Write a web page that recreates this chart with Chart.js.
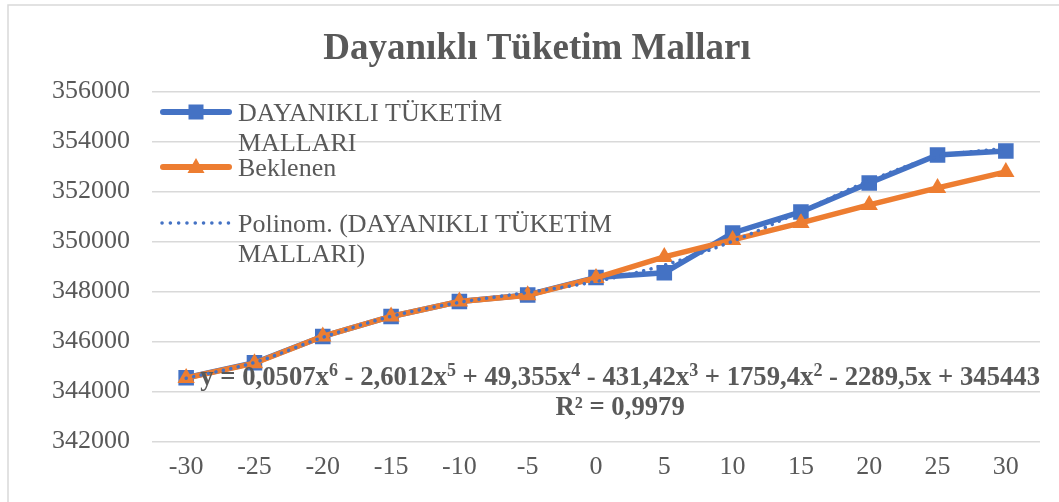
<!DOCTYPE html>
<html>
<head>
<meta charset="utf-8">
<script src="https://cdn.jsdelivr.net/npm/chart.js@4"></script>
<style>
  html, body { margin: 0; padding: 0; background: #fff; }
</style>
</head>
<body>
<canvas id="chart" width="1059" height="502"></canvas>
<script>
// x categories and y tick values
const categories = ['-30', '-25', '-20', '-15', '-10', '-5', '0', '5', '10', '15', '20', '25', '30'];
const yTicks = [342000, 344000, 346000, 348000, 350000, 352000, 354000, 356000];

// series
const tuketim = [344550, 345150, 346200, 347000, 347600, 347860, 348560, 348750, 350340, 351180, 352340, 353460, 353620];
const beklenen = [344540, 345130, 346200, 347000, 347600, 347850, 348540, 349380, 350060, 350740, 351460, 352140, 352780];
// 6th degree polynomial trend, evaluated at x = 1..13
const polinom = [344528, 345160, 346163, 347003, 347563, 347960, 348398, 349054, 350008, 351198, 352425, 353382, 353728];

const legendLines = [
	['DAYANIKLI TÜKETİM', 'MALLARI'],
	['Beklenen'],
	['Polinom. (DAYANIKLI TÜKETİM', 'MALLARI)'],
];

const BLUE = '#4472C4';
const ORANGE = '#ED7D31';
const TEXT = '#595959';
const GRID = '#d9d9d9';
const FONT = 'Liberation Serif';

// outer frame of the chart
const frame = {
	id: 'frame',
	beforeDraw(chart) {
		const { ctx } = chart;
		ctx.save();
		ctx.fillStyle = '#fff';
		ctx.fillRect(0, 0, chart.width, chart.height);
		ctx.strokeStyle = GRID;
		ctx.lineWidth = 1.5;
		ctx.strokeRect(8, 5, chart.width + 20, chart.height + 20);
		ctx.restore();
	},
};

// legend drawn inside the plot, top left
const insideLegend = {
	id: 'insideLegend',
	afterDraw(chart) {
		const { ctx } = chart;
		const x0 = 163, x1 = 229, xm = 196;
		const rows = [112, 167, 223];
		ctx.save();

		// series 1: line + square
		ctx.strokeStyle = BLUE;
		ctx.lineWidth = 6;
		ctx.lineCap = 'round';
		ctx.beginPath();
		ctx.moveTo(x0, rows[0]);
		ctx.lineTo(x1, rows[0]);
		ctx.stroke();
		ctx.fillStyle = BLUE;
		ctx.fillRect(xm - 7.5, rows[0] - 7.5, 15, 15);

		// series 2: line + triangle
		ctx.strokeStyle = ORANGE;
		ctx.beginPath();
		ctx.moveTo(x0, rows[1]);
		ctx.lineTo(x1, rows[1]);
		ctx.stroke();
		ctx.fillStyle = ORANGE;
		ctx.beginPath();
		ctx.moveTo(xm, rows[1] - 9);
		ctx.lineTo(xm + 8.5, rows[1] + 6);
		ctx.lineTo(xm - 8.5, rows[1] + 6);
		ctx.closePath();
		ctx.fill();

		// trendline: dotted
		ctx.strokeStyle = BLUE;
		ctx.lineWidth = 3.5;
		ctx.setLineDash([0.1, 8.2]);
		ctx.beginPath();
		ctx.moveTo(x0 - 1, rows[2]);
		ctx.lineTo(x1 + 2, rows[2]);
		ctx.stroke();
		ctx.setLineDash([]);

		ctx.fillStyle = TEXT;
		ctx.font = `26px "${FONT}"`;
		ctx.textBaseline = 'alphabetic';
		legendLines.forEach((lines, i) => {
			lines.forEach((t, j) => {
				ctx.fillText(t, 238, rows[i] + 9 + j * 30);
			});
		});
		ctx.restore();
	},
};

// trendline equation and R²
const equation = {
	id: 'equation',
	afterDatasetsDraw(chart) {
		const { ctx, chartArea } = chart;
		const parts = [
			['y = 0,0507x', false], ['6', true],
			[' - 2,6012x', false], ['5', true],
			[' + 49,355x', false], ['4', true],
			[' - 431,42x', false], ['3', true],
			[' + 1759,4x', false], ['2', true],
			[' - 2289,5x + 345443', false],
		];
		const big = `bold 26.7px "${FONT}"`;
		const small = `bold 18px "${FONT}"`;
		ctx.save();
		ctx.fillStyle = TEXT;
		ctx.textBaseline = 'alphabetic';
		let w = 0;
		parts.forEach(([t, sup]) => {
			ctx.font = sup ? small : big;
			w += ctx.measureText(t).width;
		});
		const base = chartArea.bottom - 57;
		let x = chartArea.right - w;
		const left = x;
		parts.forEach(([t, sup]) => {
			ctx.font = sup ? small : big;
			ctx.fillText(t, x, sup ? base - 9 : base);
			x += ctx.measureText(t).width;
		});
		ctx.font = big;
		ctx.textAlign = 'center';
		ctx.fillText('R² = 0,9979', left + w / 2, base + 30);
		ctx.restore();
	},
};

const data = {
	labels: categories,
	datasets: [
		{
			label: 'DAYANIKLI TÜKETİM MALLARI',
			data: tuketim,
			borderColor: BLUE,
			backgroundColor: BLUE,
			borderWidth: 5.5,
			pointStyle: 'rect',
			pointRadius: 11,
			pointBorderWidth: 0,
			order: 2,
		},
		{
			label: 'Beklenen',
			data: beklenen,
			borderColor: ORANGE,
			backgroundColor: ORANGE,
			borderWidth: 5.5,
			pointStyle: 'triangle',
			pointRadius: 10,
			pointBorderWidth: 0,
			order: 1,
		},
		{
			label: 'Polinom. (DAYANIKLI TÜKETİM MALLARI)',
			data: polinom,
			borderColor: BLUE,
			borderWidth: 3.5,
			borderDash: [0.1, 7.5],
			borderCapStyle: 'round',
			pointRadius: 0,
			tension: 0.4,
			cubicInterpolationMode: 'monotone',
			order: 0,
		},
	],
};

const config = {
	type: 'line',
	data,
	options: {
		responsive: false,
		animation: false,
		layout: {
			padding: { left: 34, right: 19, top: 0, bottom: 19.5 },
		},
		scales: {
			x: {
				offset: true,
				grid: { display: false, drawTicks: false, offset: true },
				border: { display: false },
				afterFit: axis => {
					axis.height = 41;
				},
				ticks: {
					color: TEXT,
					font: { family: FONT, size: 26 },
					padding: 10,
					maxRotation: 0,
					autoSkip: false,
				},
			},
			y: {
				min: 342000,
				max: 356000,
				afterBuildTicks: axis => {
					axis.ticks = yTicks.map(v => ({ value: v }));
				},
				afterFit: axis => {
					axis.width = 118;
				},
				grid: { color: GRID, lineWidth: 1.5, drawTicks: false },
				border: { display: false },
				ticks: {
					color: TEXT,
					font: { family: FONT, size: 26 },
					padding: 22,
					callback: v => String(v),
				},
			},
		},
		plugins: {
			legend: { display: false },
			tooltip: { enabled: false },
			title: {
				display: true,
				text: 'Dayanıklı Tüketim Malları',
				color: TEXT,
				font: { family: FONT, size: 37, weight: 'bold' },
				padding: { top: 27, bottom: 20 },
			},
		},
	},
	plugins: [frame, insideLegend, equation],
};

const myChart = new Chart(document.getElementById('chart'), config);
</script>
</body>
</html>
